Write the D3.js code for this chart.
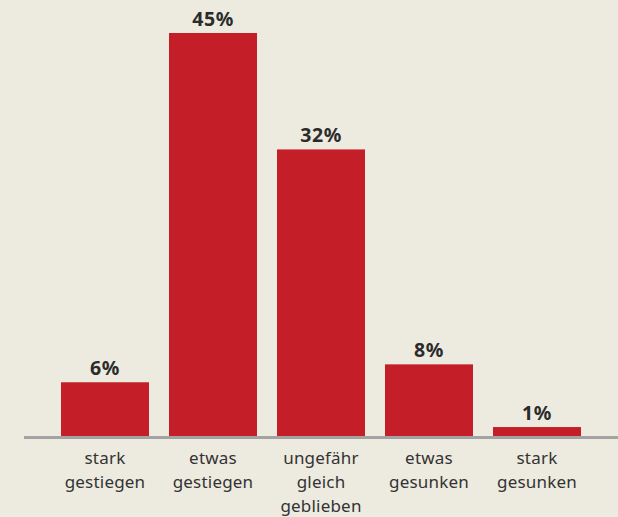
<!DOCTYPE html>
<html>
<head>
<meta charset="utf-8">
<script src="https://cdn.jsdelivr.net/npm/d3@7"></script>
<style>
  html, body { margin: 0; padding: 0; background: #edeadf; }
  svg { display: block; }
</style>
</head>
<body>
<svg id="chart" width="618" height="517"></svg>
<script>
const categories = [
  ["stark", "gestiegen"],
  ["etwas", "gestiegen"],
  ["ungefähr", "gleich", "geblieben"],
  ["etwas", "gesunken"],
  ["stark", "gesunken"],
];
const values = [6, 45, 32, 8, 1];
const valueLabels = ["6%", "45%", "32%", "8%", "1%"];

const width = 618;
const height = 517;
const baseline = 436;

const svg = d3.select("#chart");

svg.append("rect")
  .attr("width", width)
  .attr("height", height)
  .attr("fill", "#edeadf");

const x = d3.scaleBand()
  .domain(d3.range(values.length))
  .range([51, 591])
  .paddingInner(20 / 108)
  .paddingOuter(10 / 108);

const y = d3.scaleLinear()
  .domain([0, 45])
  .range([baseline, 33]);

svg.selectAll(".bar")
  .data(values)
  .join("rect")
  .attr("class", "bar")
  .attr("x", (d, i) => x(i))
  .attr("y", (d) => y(d))
  .attr("width", x.bandwidth())
  .attr("height", (d) => baseline - y(d))
  .attr("fill", "#c41f28");

// baseline
svg.append("line")
  .attr("x1", 24)
  .attr("x2", width)
  .attr("y1", baseline + 1.5)
  .attr("y2", baseline + 1.5)
  .attr("stroke", "#a3a3a3")
  .attr("stroke-width", 3);

// value labels
svg.selectAll(".value")
  .data(values)
  .join("text")
  .attr("class", "value")
  .attr("x", (d, i) => x(i) + x.bandwidth() / 2)
  .attr("y", (d) => y(d) - 7)
  .attr("text-anchor", "middle")
  .attr("font-family", "'Noto Sans', sans-serif")
  .attr("font-weight", "bold")
  .attr("font-size", 19.5)
  .attr("letter-spacing", 0.6)
  .attr("fill", "#2b2b2b")
  .text((d, i) => valueLabels[i]);

// category labels
const cat = svg.selectAll(".cat")
  .data(categories)
  .join("text")
  .attr("class", "cat")
  .attr("text-anchor", "middle")
  .attr("font-family", "'Noto Sans', sans-serif")
  .attr("font-size", 17)
  .attr("letter-spacing", 0.2)
  .attr("fill", "#333");

cat.selectAll("tspan")
  .data((d, i) => d.map((t) => ({ t, i })))
  .join("tspan")
  .attr("x", (d) => x(d.i) + x.bandwidth() / 2)
  .attr("y", (d, j) => 464 + j * 24)
  .text((d) => d.t);
</script>
</body>
</html>
